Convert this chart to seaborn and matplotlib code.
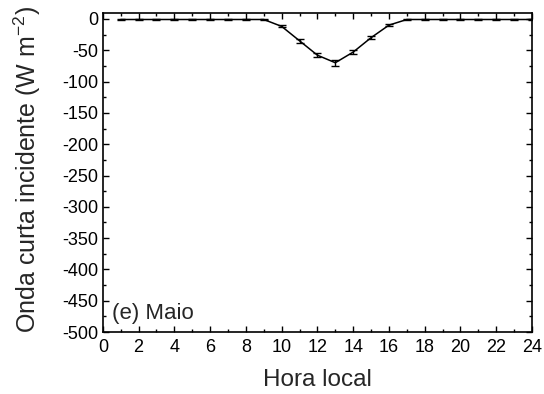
import matplotlib
matplotlib.use("Agg")
import matplotlib.pyplot as plt
import seaborn as sns
import pandas as pd
import numpy as np
from matplotlib.ticker import MultipleLocator

hours = list(range(1, 25))
values = [-1, -1, -1, -1, -1, -1, -1, -1, -1, -12, -35, -58, -70, -53, -30, -10,
          -1, -1, -1, -1, -1, -1, -1, -1]
errors = [0.5, 0.5, 0.5, 0.5, 0.5, 0.5, 0.5, 0.5, 0.5, 1.5, 3, 3.5, 4.5, 3.5, 2, 1.5,
          0.5, 0.5, 0.5, 0.5, 0.5, 0.5, 0.5, 0.5]

df = pd.DataFrame({"hora": hours, "valor": values, "erro": errors})

sns.set_style("ticks")
plt.rcParams['font.family'] = ['Liberation Sans', 'DejaVu Sans']
plt.rcParams['axes.unicode_minus'] = False
plt.rcParams['mathtext.default'] = 'regular'

fig = plt.figure(figsize=(5.44, 3.94), dpi=100)
ax = fig.add_axes([0.189, 0.157, 0.789, 0.811])

sns.lineplot(data=df, x="hora", y="valor", ax=ax, color="black", linewidth=1.1)
ax.errorbar(df["hora"], df["valor"], yerr=df["erro"], fmt="none", ecolor="black",
            elinewidth=1, capsize=3, capthick=1)

ax.set_xlim(0, 24)
ax.set_ylim(-500, 10)
ax.xaxis.set_major_locator(MultipleLocator(2))
ax.xaxis.set_minor_locator(MultipleLocator(1))
ax.yaxis.set_major_locator(MultipleLocator(50))
ax.yaxis.set_minor_locator(MultipleLocator(25))
ax.tick_params(which="both", direction="in", top=True, right=True, labelsize=13,
               width=1, colors="black")
ax.tick_params(axis="x", pad=5)
ax.tick_params(axis="y", pad=3.5)
ax.tick_params(which="major", length=4)
ax.tick_params(which="minor", length=2.5)
for s in ax.spines.values():
    s.set_linewidth(1.2)
    s.set_color("black")

ax.set_xlabel("Hora local", fontsize=17.5)
ax.set_ylabel("Onda curta incidente (W m$^{-2}$)", fontsize=18)
ax.xaxis.set_label_coords(0.5, -0.115)
ax.yaxis.set_label_coords(-0.14, 0.51)
ax.text(0.5, -470, "(e) Maio", fontsize=16, va="center", ha="left")

fig.savefig("out.png", dpi=100)
